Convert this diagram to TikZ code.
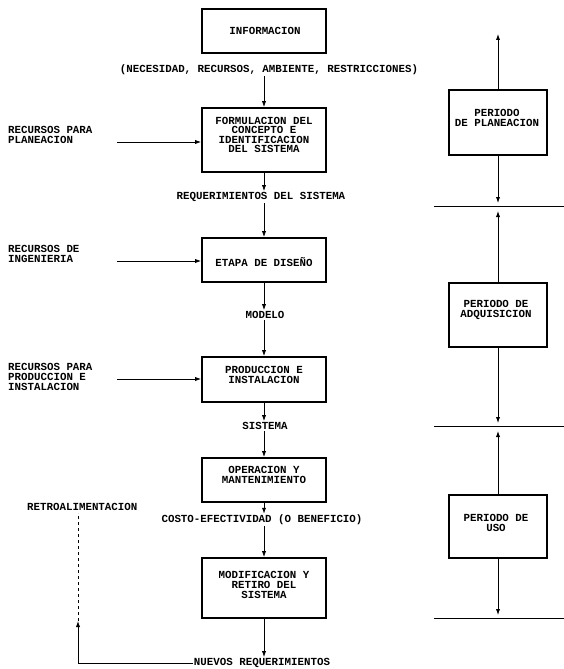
\documentclass[tikz,border=0pt]{standalone}
\usepackage{fontspec}
\setmonofont{Liberation Mono}
\usetikzlibrary{arrows.meta}
\begin{document}
\begin{tikzpicture}[x=1pt,y=-1pt,
  txt/.style={font=\ttfamily\bfseries\fontsize{10.8}{9.6}\selectfont, align=center, inner sep=1pt},
  ltxt/.style={txt, align=left, anchor=west},
  boxnode/.style={draw, line width=1.7pt, minimum width=124pt, minimum height=#1, inner sep=0pt},
  rbox/.style={draw, line width=1.7pt, minimum width=98pt, minimum height=#1, inner sep=0pt},
  conn/.style={line width=0.8pt},
  arr/.style={conn, -{Latex[length=6pt,width=4.2pt]}},
]
\useasboundingbox (0,0) rectangle (564,669);

% main boxes
\node[boxnode=44pt] (b1) at (264,31) {};
\node[boxnode=64pt] (b2) at (264,140) {};
\node[boxnode=44pt] (b3) at (264,260) {};
\node[boxnode=45pt] (b4) at (264,379.5) {};
\node[boxnode=44pt] (b5) at (264,480) {};
\node[boxnode=60pt] (b6) at (264,588) {};

\node[txt] (t1) at (265,31) {INFORMACION};
\node[txt] (t2) at (264,135) {FORMULACION DEL\\CONCEPTO E\\IDENTIFICACION\\DEL SISTEMA};
\node[txt] (t3) at (264,262) {ETAPA DE DISEÑO};
\node[txt] (t4) at (264,375) {PRODUCCION E\\INSTALACION};
\node[txt] (t5) at (264,475) {OPERACION Y\\MANTENIMIENTO};
\node[txt] (t6) at (264,585) {MODIFICACION Y\\RETIRO DEL\\SISTEMA};

% flow labels
\node[txt] (nec) at (269,70) {(NECESIDAD, RECURSOS, AMBIENTE, RESTRICCIONES)};
\node[txt] (req) at (261,197) {REQUERIMIENTOS DEL SISTEMA};
\node[txt] (mod) at (265,315) {MODELO};
\node[txt] (sis) at (265,426) {SISTEMA};
\node[txt] (cost) at (262,520) {COSTO-EFECTIVIDAD (O BENEFICIO)};
\node[txt] (nue) at (262,663) {NUEVOS REQUERIMIENTOS};
\node[ltxt] (retro) at (26,507) {RETROALIMENTACION};

% main connectors
\draw[arr] (b2.north |- nec.south) -- (b2.north);
\draw[arr] (b2.south) -- (b2.south |- req.north);
\draw[arr] (b3.north |- req.south) -- (b3.north);
\draw[arr] (b3.south) -- (b3.south |- mod.north);
\draw[arr] (b4.north |- mod.south) -- (b4.north);
\draw[arr] (b4.south) -- (b4.south |- sis.north);
\draw[arr] (b5.north |- sis.south) -- (b5.north);
\draw[arr] (b5.south) -- (b5.south |- cost.north);
\draw[arr] (b6.north |- cost.south) -- (b6.north);
\draw[arr] (b6.south) -- (b6.south |- nue.north);

% feedback
\coordinate (fb) at (78,621);
\coordinate (fbt) at (78,513);
\draw[arr] (nue.west) -| (fb);
\draw[conn, dash pattern=on 3pt off 3pt] (fb) -- (fbt);

% left resource inputs
\node[ltxt] (l1) at (7,135) {RECURSOS PARA\\PLANEACION};
\node[ltxt] (l2) at (7,254) {RECURSOS DE\\INGENIERIA};
\node[ltxt] (l3) at (7,377) {RECURSOS PARA\\PRODUCCION E\\INSTALACION};
\coordinate (s1) at (117,142);
\coordinate (s2) at (117,261);
\coordinate (s3) at (117,379);
\draw[arr] (s1) -- (s1 -| b2.west);
\draw[arr] (s2) -- (s2 -| b3.west);
\draw[arr] (s3) -- (s3 -| b4.west);

% right periods
\node[rbox=65pt] (r1) at (498,122.5) {};
\node[rbox=64pt] (r2) at (498,315) {};
\node[rbox=63pt] (r3) at (498,526.5) {};
\node[txt] (tr1) at (497,118) {PERIODO\\DE PLANEACION};
\node[txt] (tr2) at (496,310) {PERIODO DE\\ADQUISICION};
\node[txt] (tr3) at (496,523) {PERIODO DE\\USO};

\coordinate (u1) at (498,34);
\coordinate (d1) at (498,203);
\coordinate (u2) at (498,211);
\coordinate (d2) at (498,423);
\coordinate (u3) at (498,431);
\coordinate (d3) at (498,615);
\coordinate (h1a) at (434,206); \coordinate (h1b) at (564,206);
\coordinate (h2a) at (434,426); \coordinate (h2b) at (564,426);
\coordinate (h3a) at (434,618); \coordinate (h3b) at (564,618);

\draw[arr] (r1.north) -- (u1);
\draw[arr] (r1.south) -- (d1);
\draw[arr] (r2.north) -- (u2);
\draw[arr] (r2.south) -- (d2);
\draw[arr] (r3.north) -- (u3);
\draw[arr] (r3.south) -- (d3);
\draw[conn] (h1a) -- (h1b);
\draw[conn] (h2a) -- (h2b);
\draw[conn] (h3a) -- (h3b);
\end{tikzpicture}
\end{document}
